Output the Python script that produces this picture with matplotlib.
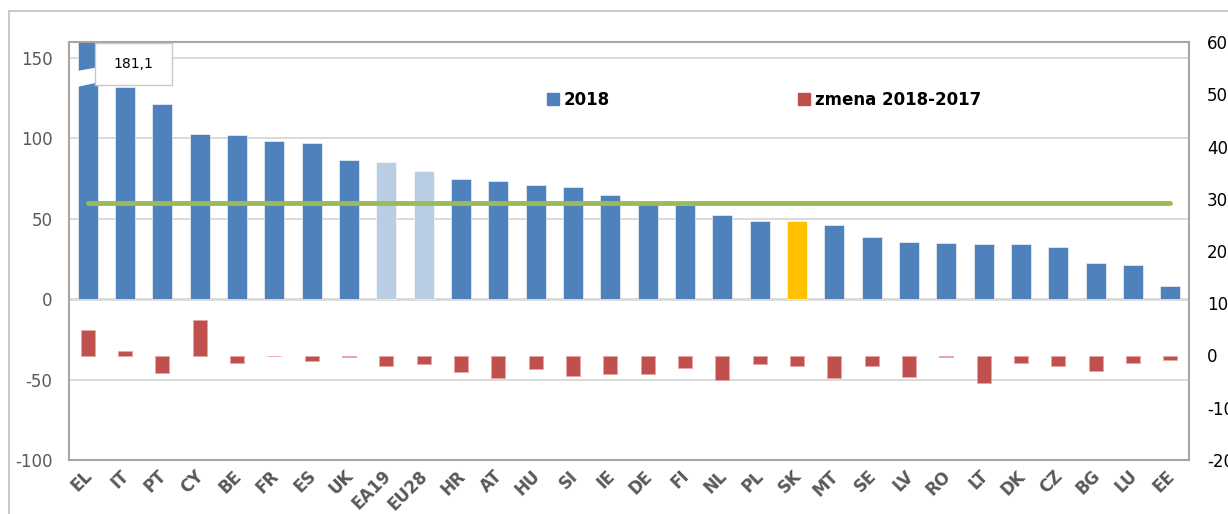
import matplotlib
matplotlib.use("Agg")
import matplotlib.pyplot as plt
from matplotlib.patches import Rectangle, Polygon
import matplotlib.transforms as mtransforms

plt.rcParams["axes.unicode_minus"] = False

countries = ["EL", "IT", "PT", "CY", "BE", "FR", "ES", "UK", "EA19", "EU28",
             "HR", "AT", "HU", "SI", "IE", "DE", "FI", "NL", "PL", "SK",
             "MT", "SE", "LV", "RO", "LT", "DK", "CZ", "BG", "LU", "EE"]
debt_2018 = [181.1, 132.2, 121.5, 102.5, 102.0, 98.4, 97.1, 86.8, 85.1, 80.0,
             74.6, 73.8, 70.8, 70.1, 64.8, 60.9, 58.9, 52.4, 48.9, 48.9,
             46.0, 38.8, 35.9, 35.0, 34.2, 34.1, 32.7, 22.6, 21.4, 8.4]
change = [4.9, 0.8, -3.3, 6.7, -1.4, 0.0, -1.0, -0.3, -2.0, -1.6,
          -3.2, -4.4, -2.6, -4.0, -3.6, -3.6, -2.4, -4.6, -1.7, -2.0,
          -4.3, -2.0, -4.1, -0.2, -5.2, -1.4, -2.0, -3.0, -1.4, -0.8]
limit = 60

blue = "#4F81BD"
light_blue = "#B9CDE5"
yellow = "#FFC000"
red = "#C0504D"
green = "#9BBB59"
grey_txt = "#595959"

colors = []
for c in countries:
    if c in ("EA19", "EU28"):
        colors.append(light_blue)
    elif c == "SK":
        colors.append(yellow)
    else:
        colors.append(blue)

fig = plt.figure(figsize=(12.28, 5.14), dpi=100)
W, H = 1228, 514

# outer chart frame (cut by image edge)
fig.add_artist(Rectangle((9 / W, -0.1), 1.2, 1 - 11 / H + 0.1, transform=fig.transFigure,
                         fill=False, edgecolor="#BFBFBF", linewidth=1.2))

ax = fig.add_axes([69 / W, 1 - 460 / H, 1120 / W, 418 / H])
x = list(range(len(countries)))

ax.set_ylim(-100, 160)
ax.set_xlim(-0.5, len(countries) - 0.5)
ax.set_yticks([-100, -50, 0, 50, 100, 150])
for v in [-50, 50, 100, 150]:
    ax.axhline(v, color="#D9D9D9", lw=1.4, zorder=0)
ax.axhline(0, color="#D9D9D9", lw=2, zorder=0)

ax.bar(x, debt_2018, width=0.53, color=colors, edgecolor="white", linewidth=0.4, zorder=2)
ax.plot([x[0], x[-1]], [limit, limit], color=green, lw=3.5, solid_capstyle="round", zorder=3)

# broken EL bar + value box
ax.add_patch(Polygon([(-0.35, 141.7), (0.35, 144.6), (0.35, 135.2), (-0.35, 131.7)],
                     closed=True, facecolor="white", edgecolor="none", zorder=4))
ax.add_patch(Rectangle((0.2, 133.1), 2.05, 26.3, facecolor="white",
                       edgecolor="#C8C8C8", lw=1.0, zorder=5))
ax.text(1.225, 146.2, "181,1", ha="center", va="center", fontsize=10, color="black", zorder=6)

for side in ["left", "right", "top", "bottom"]:
    ax.spines[side].set_color("#A6A6A6")
    ax.spines[side].set_linewidth(1.5)

ax.tick_params(axis="y", length=0, pad=12, labelsize=12, labelcolor=grey_txt)
ax.tick_params(axis="x", length=0, pad=5)
ax.set_xticks(x)
ax.set_xticklabels(countries, rotation=45, ha="right", va="top", fontsize=12,
                   fontweight="bold", color=grey_txt)
offset = mtransforms.ScaledTranslation(8 / 100, 0, fig.dpi_scale_trans)
for lab in ax.get_xticklabels():
    lab.set_transform(lab.get_transform() + offset)

ax2 = ax.twinx()
ax2.set_ylim(-20, 60)
ax2.set_yticks(range(-20, 61, 10))
ax2.bar(x, change, width=0.38, color=red, edgecolor="#E6A5A3", linewidth=0.6, zorder=2)
ax2.tick_params(axis="y", length=0, pad=13, labelsize=12, labelcolor="black")
for side in ["left", "right", "top", "bottom"]:
    ax2.spines[side].set_visible(False)

h1 = Rectangle((0, 0), 1, 1, color=blue)
h2 = Rectangle((0, 0), 1, 1, color=red)
ax.legend([h1, h2], ["2018", "zmena 2018-2017"], loc="center left",
          bbox_to_anchor=((547 - 69) / 1120, (460 - 100) / 418), ncol=2,
          frameon=False, borderpad=0, borderaxespad=0, handlelength=0.7,
          handleheight=0.7, handletextpad=0.3, columnspacing=11.3,
          prop={"weight": "bold", "size": 12})

fig.savefig("out.png", dpi=100)
